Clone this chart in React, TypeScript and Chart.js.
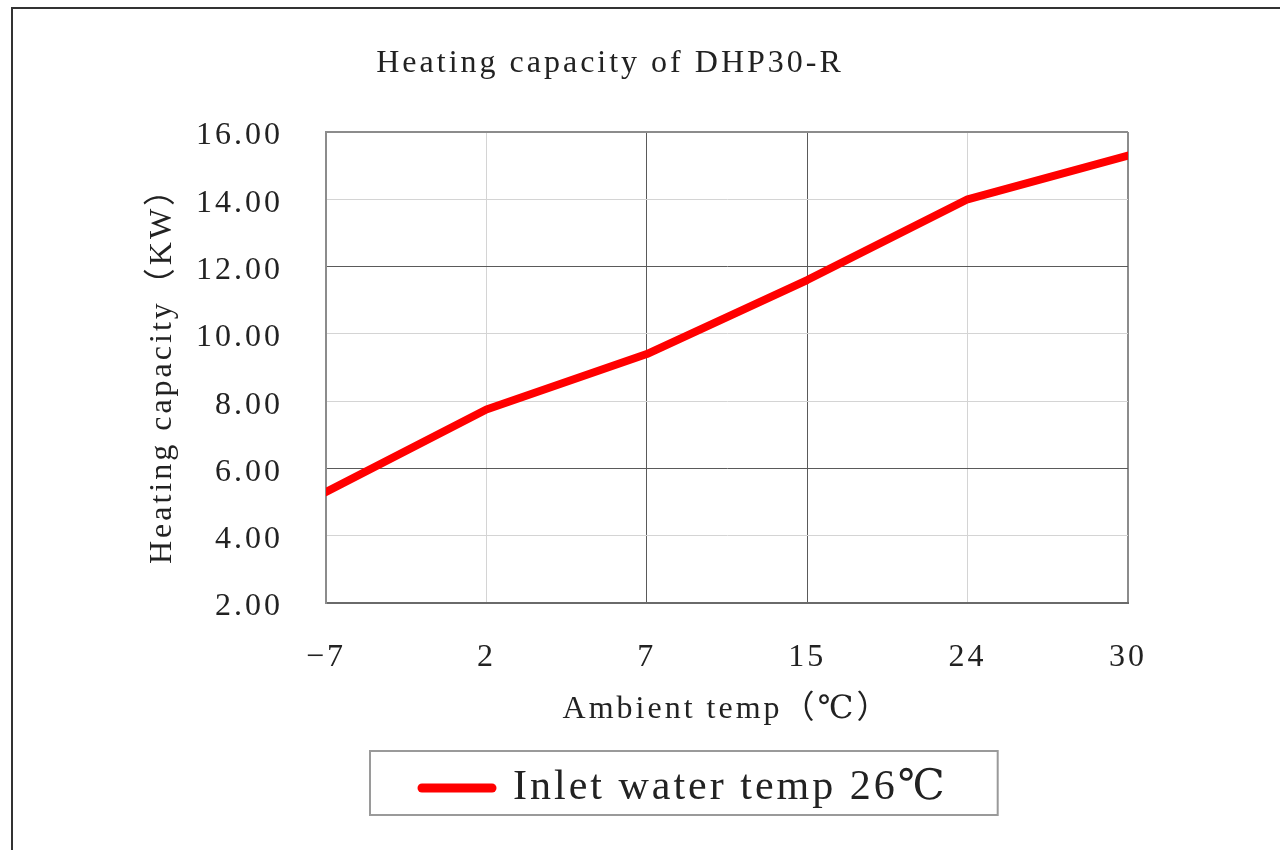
import React, { useEffect, useRef } from "react";
import { Chart, registerables } from "chart.js";

Chart.register(...registerables);

// ---- data ----
const categories = ["−7", "2", "7", "15", "24", "30"];
const capacity = [5.3, 7.75, 9.4, 11.6, 14.0, 15.3];
const seriesLabel = "Inlet water temp 26℃";
const chartTitle = "Heating capacity of DHP30-R";
const xTitle = "Ambient temp（℃）";
const yTitle = "Heating capacity（KW）";
const yMin = 2;
const yMax = 16;
const yStep = 2;
const darkYLines = [6, 12];
const darkXLines = ["7", "15"];

// ---- style ----
const FONT = "'Liberation Serif', 'DejaVu Serif', 'Noto Sans CJK SC', serif";
const TEXT = "#222";
const LIGHT = "#d4d4d4";
const DARK = "#5a5a5a";
const EDGE = "#8c8c8c";
const SPACING = "3px";
const LEGEND_INSET = 96;

const spacingPlugin = {
  id: "spacing",
  beforeUpdate(chart: any) {
    chart.ctx.letterSpacing = SPACING;
  },
  beforeDraw(chart: any) {
    chart.ctx.letterSpacing = SPACING;
  },
};

const legendPlacePlugin = {
  id: "legendPlace",
  afterLayout(chart: any) {
    const lg = chart.legend;
    if (!lg) return;
    const pad = lg.options.labels.padding;
    lg.left = chart.chartArea.left + LEGEND_INSET - pad;
  },
  afterDraw(chart: any) {
    const lg = chart.legend;
    if (!lg || !lg.legendHitBoxes || !lg.legendHitBoxes.length) return;
    const hb = lg.legendHitBoxes[0];
    const ctx = chart.ctx;
    ctx.save();
    ctx.strokeStyle = "#9a9a9a";
    ctx.lineWidth = 2;
    ctx.strokeRect(hb.left - 52, hb.top - 16, hb.width + 52 + 50, hb.height + 22);
    ctx.restore();
  },
};

export default function App() {
  const ref = useRef<HTMLCanvasElement | null>(null);

  useEffect(() => {
    if (!ref.current) return;
    const chart = new Chart(ref.current, {
      type: "line",
      data: {
        labels: categories,
        datasets: [
          {
            label: seriesLabel,
            data: capacity,
            borderColor: "#ff0000",
            backgroundColor: "#ff0000",
            borderWidth: 8,
            borderCapStyle: "round",
            borderJoinStyle: "round",
            pointRadius: 0,
            tension: 0,
            clip: 0,
          } as any,
        ],
      },
      options: {
        responsive: false,
        animation: false,
        devicePixelRatio: 1,
        layout: { padding: { left: 92, right: 152, top: 0, bottom: 31 } },
        plugins: {
          title: {
            display: true,
            text: chartTitle,
            color: TEXT,
            font: { family: FONT, size: 32, weight: "normal" },
            padding: { top: 44, bottom: 49.6 },
          },
          legend: {
            display: true,
            position: "bottom",
            align: "start",
            labels: {
              usePointStyle: true,
              pointStyle: "line",
              pointStyleWidth: 70,
              color: TEXT,
              font: { family: FONT, size: 42 },
              padding: 38,
              generateLabels: (chart: any) =>
                (Chart as any).defaults.plugins.legend.labels
                  .generateLabels(chart)
                  .map((l: any) => ({ ...l, lineCap: "round", lineWidth: 9 })),
            },
          },
          tooltip: { enabled: false },
        },
        scales: {
          x: {
            type: "category",
            offset: false,
            afterFit(scale: any) {
              scale.height = 126;
            },
            grid: {
              offset: false,
              drawTicks: false,
              color: (c: any) =>
                c.index === categories.length - 1
                  ? EDGE
                  : darkXLines.includes(categories[c.index])
                  ? DARK
                  : LIGHT,
              lineWidth: (c: any) => (c.index === categories.length - 1 ? 2 : 1),
            },
            border: { color: "#6a6a6a", width: 2 },
            ticks: {
              color: TEXT,
              font: { family: FONT, size: 32 },
              padding: 35,
              maxRotation: 0,
              autoSkip: false,
            },
            title: {
              display: true,
              text: xTitle,
              color: TEXT,
              font: { family: FONT, size: 32 },
              padding: { top: 0, bottom: 0 },
            },
          },
          y: {
            min: yMin,
            max: yMax,
            afterFit(scale: any) {
              scale.width = 234;
            },
            grid: {
              drawTicks: false,
              color: (c: any) =>
                c.tick && c.tick.value === yMax
                  ? EDGE
                  : c.tick && darkYLines.includes(c.tick.value)
                  ? DARK
                  : LIGHT,
              lineWidth: (c: any) => (c.tick && c.tick.value === yMax ? 2 : 1),
            },
            border: { color: EDGE, width: 2 },
            ticks: {
              stepSize: yStep,
              color: TEXT,
              font: { family: FONT, size: 32 },
              padding: 43,
              labelOffset: 4,
              callback: (v: any) => Number(v).toFixed(2),
            },
            title: {
              display: true,
              text: yTitle,
              color: TEXT,
              font: { family: FONT, size: 32 },
              padding: { top: 51.8, bottom: 0 },
            },
          },
        },
      },
      plugins: [spacingPlugin, legendPlacePlugin],
    });
    return () => chart.destroy();
  }, []);

  return (
    <div
      style={{
        position: "fixed",
        left: 0,
        top: 0,
        width: 1280,
        height: 850,
        background: "#fff",
        overflow: "hidden",
      }}
    >
      <canvas
        ref={ref}
        width={1280}
        height={850}
        style={{ position: "absolute", left: 0, top: 0, width: 1280, height: 850 }}
      />
      <div
        style={{
          position: "absolute",
          left: 11,
          top: 7,
          width: 2000,
          height: 2000,
          border: "2px solid #333",
          pointerEvents: "none",
        }}
      />
    </div>
  );
}
